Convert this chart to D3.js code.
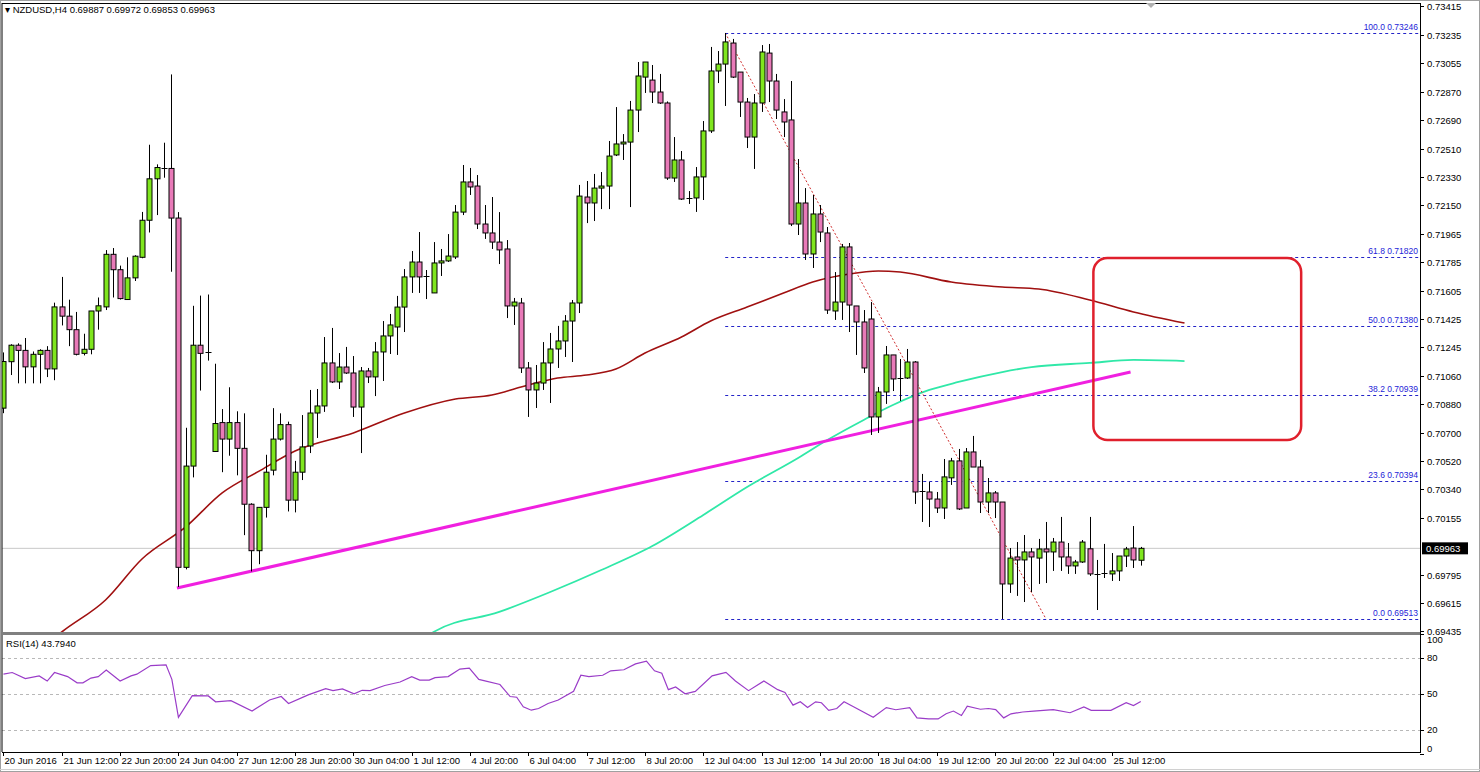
<!DOCTYPE html>
<html>
<head>
<meta charset="utf-8">
<script src="https://cdn.jsdelivr.net/npm/d3@7"></script>
<style>
  body { margin: 0; background: #fff; }
  text { font-family: "Liberation Sans", Tahoma, sans-serif; font-size: 9.5px; }
</style>
</head>
<body>
<div id="chart"></div>
<script>
// ---- data ----
var opens = [.70856,.71152,.71257,.71224,.71119,.71199,.71224,.71106,.71501,.71442,
.71356,.71205,.71231,.71475,.71501,.71836,.71738,.71548,.71686,.71817,
.72053,.72317,.72389,.72383,.72067,.69842,.70487,.71257,.71211,.70580,
.70764,.70659,.70764,.70600,.70244,.69948,.70224,.70461,.70659,.70751,
.70270,.70448,.70615,.70825,.70870,.71144,.71023,.71118,.71080,.70863,
.71093,.71055,.71214,.71316,.71373,.71500,.71692,.71787,.71695,.71590,
.71781,.71794,.71819,.72105,.72297,.72271,.72029,.71972,.71914,.71870,
.71507,.71526,.71112,.70972,.71016,.71144,.71233,.71284,.71411,.71526,
.72201,.72163,.72258,.72271,.72469,.72539,.72551,.72755,.72965,.72946,
.72870,.72800,.72322,.72437,.72195,.72195,.72329,.72622,.73004,.73048,
.73182,.72997,.72806,.72583,.72800,.73118,.72940,.72743,.72692,.72029,
.72163,.71838,.72093,.71972,.71475,.71532,.71883,.71507,.71405,.71424,
.70800,.70959,.71195,.71045,.71048,.71150,.70328,.70322,.70277,.70220,
.70412,.70520,.70220,.70577,.70481,.70258,.70316,.70258,.69736,.69908,
.69889,.69940,.69901,.69959,.69940,.70003,.69908,.69851,.69876,.69960,
.69800,.69806,.69800,.69819,.69914,.69965,.69887];
var highs = [.71211,.71263,.71269,.71303,.71217,.71231,.71251,.71528,.71692,.71547,
.71469,.71330,.71475,.71561,.71863,.71876,.71764,.71817,.71830,.72106,
.72534,.72409,.72547,.72982,.72105,.70731,.71508,.71573,.71580,.71139,
.70850,.70989,.70836,.70823,.70250,.70224,.70559,.70856,.70823,.70770,
.70520,.70812,.70972,.70978,.71309,.71367,.71207,.71246,.71188,.71118,
.71112,.71277,.71411,.71456,.71571,.71742,.71857,.71978,.71736,.71914,
.71870,.71965,.72150,.72405,.72386,.72341,.72150,.72201,.72105,.71927,
.71558,.71558,.71150,.71131,.71277,.71335,.71380,.71449,.71545,.72278,
.72303,.72348,.72360,.72558,.72774,.72602,.72813,.73061,.73061,.73042,
.72985,.72810,.72583,.72494,.72239,.72392,.72685,.73157,.73131,.73246,
.73208,.72997,.72832,.72857,.73169,.73176,.72985,.72825,.72940,.72443,
.72258,.72214,.72150,.72010,.71723,.71902,.71908,.71507,.71481,.71532,
.70991,.71252,.71195,.71169,.71233,.71156,.70437,.70386,.70322,.70532,
.70539,.70596,.70602,.70679,.70526,.70411,.70328,.70258,.69965,.70003,
.70048,.69965,.70023,.70131,.70029,.70163,.69997,.69889,.70016,.70163,
.69889,.69991,.69933,.69914,.69972,.70105,.69972];
var lows = [.70824,.71067,.71014,.71014,.71014,.71014,.71054,.71034,.71383,.71251,
.71192,.71192,.71199,.71356,.71481,.71561,.71548,.71548,.71666,.71811,
.71975,.72086,.72324,.71725,.69717,.69829,.70415,.70968,.71159,.70580,
.70448,.70553,.70428,.70047,.69816,.69862,.70159,.70428,.70650,.70198,
.70192,.70398,.70570,.70666,.70832,.71016,.70978,.71074,.70800,.70570,
.71016,.70933,.71029,.71201,.71195,.71341,.71590,.71590,.71551,.71590,
.71698,.71787,.71806,.72086,.72214,.71997,.71934,.71870,.71774,.71430,
.71386,.71080,.70800,.70857,.70972,.70889,.71112,.71182,.71150,.71462,
.72035,.72048,.72124,.72124,.72462,.72437,.72137,.72615,.72864,.72800,
.72794,.72310,.72297,.72182,.72157,.72106,.72182,.72609,.72927,.72781,
.72959,.72711,.72513,.72380,.72743,.72806,.72698,.72583,.72016,.71959,
.71800,.71749,.71914,.71456,.71418,.71418,.71341,.71195,.71080,.70685,
.70698,.70883,.70965,.70902,.71042,.70246,.70131,.70099,.70188,.70150,
.70367,.70207,.70220,.70481,.70188,.70188,.70156,.69513,.69679,.69660,
.69621,.69685,.69736,.69742,.69819,.69819,.69800,.69800,.69870,.69787,
.69570,.69774,.69755,.69755,.69844,.69838,.69853];
var closes = [.71153,.71257,.71224,.71119,.71199,.71224,.71106,.71501,.71442,.71356,
.71199,.71231,.71475,.71508,.71836,.71738,.71554,.71686,.71824,.72053,
.72317,.72389,.72384,.72067,.69842,.70487,.71257,.71205,.71216,.70758,
.70659,.70764,.70600,.70244,.69948,.70224,.70448,.70659,.70751,.70270,
.70448,.70609,.70825,.70870,.71144,.71023,.71118,.71080,.70863,.71093,
.71055,.71214,.71316,.71386,.71500,.71692,.71787,.71692,.71690,.71781,
.71794,.71825,.72105,.72297,.72265,.72029,.71972,.71914,.71864,.71507,
.71532,.71112,.70972,.71016,.71144,.71233,.71284,.71411,.71526,.72207,
.72163,.72258,.72271,.72462,.72539,.72551,.72755,.72972,.73061,.72870,
.72800,.72322,.72437,.72188,.72190,.72329,.72622,.73004,.73048,.73189,
.72965,.72806,.72583,.72800,.73125,.72940,.72755,.72679,.72029,.72163,
.71838,.72093,.71978,.71481,.71532,.71883,.71513,.71405,.71112,.70800,
.70959,.71195,.71042,.71040,.71150,.70322,.70322,.70277,.70220,.70418,
.70520,.70214,.70577,.70481,.70258,.70316,.70258,.69736,.69901,.69889,
.69940,.69908,.69959,.69940,.70003,.69908,.69851,.69876,.70003,.69800,
.69797,.69800,.69819,.69914,.69959,.69889,.69963];

// moving averages (bar index, price)
var maSlowBars = [5,8,14,19,25,30,35,40,48,55,62,67,71,76,80,84,88,93,97,102,107,111,116,120,123,130,137,142,149,155,162];
var maSlowVals = [.69315,.69430,.69634,.69895,.70099,.70316,.70453,.70583,.70698,.70825,.70914,.70940,.70991,.71048,.71067,.71105,.71207,.71309,.71411,.71500,.71590,.71660,.71711,.71730,.71723,.71660,.71628,.71615,.71545,.71469,.71398];
var maFastBars = [57,59,68,75,82,89,96,102,109,113,118,122,127,131,137,141,149,155,162];
var maFastVals = [.69315,.69430,.69558,.69685,.69825,.69978,.70176,.70354,.70539,.70653,.70781,.70876,.70972,.71023,.71086,.71118,.71144,.71163,.71156];

// RSI(14)
var rsiBars = [0,1.2,3,4.9,6,7,8.8,10.1,10.9,12,13,14.1,16,17.5,18.3,20.2,22.3,23.1,24,25.9,28.1,29.1,31.2,34.1,36.5,38.1,39.1,41.8,44.2,45.2,46.5,48.1,49.2,50.3,52.3,54.4,56,57.1,58.4,59.2,61,62.6,63.9,65.2,68.1,69.5,70.4,71.3,72.4,73.4,74.7,76.1,78.2,79.2,80.3,
82.2,83.3,85.1,86.7,88.2,89.3,90.3,91.2,92.2,93.5,94.9,97.2,99.1,100.4,102.2,104.3,106.2,107.2,108.3,109.3,110.3,111.4,112.2,113.2,114.3,115.3,116.6,119.3,121.1,122.4,124.3,125.3,126.9,128.2,129.3,130.3,131.4,132.2,134,135.1,136.1,137.2,138.2,139.8,141.3,144,146.3,148.2,149.2,151.9,154,155,156];
var rsiVals = [66.5,67.9,62.8,65.1,60.8,67.9,64.5,59.3,59.3,63.3,64.5,69.9,60.8,65.1,66.5,73.7,74.3,62.2,30.6,48.7,48.4,43.5,44.4,35.8,45,47.9,42.1,49.3,54.5,52.8,54.2,50.2,53.1,52.8,57.1,60,64.5,61.6,61.6,63.6,64.5,70.8,71.6,62.2,57.9,47.9,47.3,39.3,36.5,37.9,42.1,45,52.2,65.7,64.5,
65.6,69.3,70.2,75.1,77.4,69.3,67.3,53.6,55.9,50.2,52.2,65.1,68,60.8,52.8,60.8,53.6,51.3,40.7,43.5,38.7,43.5,42.7,36.4,37.9,43.5,39.3,30.6,38.7,36.9,38.7,30.1,29.2,29.2,33.5,35.8,32.1,39.9,37.3,37.9,37,30.1,33.5,35,35.8,37,34.4,39.3,36.4,36.4,42.7,40.4,43.79];

// fibonacci retracement
var fibLevels = ["100.0", "61.8", "50.0", "38.2", "23.6", "0.0"];
var fibPrices = [0.73246, 0.71820, 0.71380, 0.70939, 0.70394, 0.69513];
var fibStartBar = 99;

// trend lines and zone
var trendBars = [23.8, 154.6], trendPrices = [0.69710, 0.71086];
var fibTrendBars = [99, 143], fibTrendPrices = [0.73246, 0.69513];
var zoneBars = [149.5, 178], zonePrices = [0.71813, 0.70653];

var priceTicks = [0.73415,0.73235,0.73055,0.72870,0.72690,0.72510,0.72330,0.72150,0.71965,0.71785,0.71605,0.71425,0.71245,0.71060,0.70880,0.70700,0.70520,0.70340,0.70155,0.69795,0.69615,0.69435];
var rsiTicks = [100, 80, 50, 20, 0];
var timeLabels = ["20 Jun 2016","21 Jun 12:00","22 Jun 20:00","24 Jun 04:00","27 Jun 12:00","28 Jun 20:00","30 Jun 04:00","1 Jul 12:00","4 Jul 20:00","6 Jul 04:00","7 Jul 12:00","8 Jul 20:00","12 Jul 04:00","13 Jul 12:00","14 Jul 20:00","18 Jul 04:00","19 Jul 12:00","20 Jul 20:00","22 Jul 04:00","25 Jul 12:00"];
var lastPrice = 0.69963;

// ---- layout ----
var W = 1480, H = 772;
var left = 2, right = 1420, mainTop = 3, mainBottom = 632, rsiTop = 635, rsiBottom = 752;

var svg = d3.select("#chart").append("svg")
    .attr("width", W).attr("height", H)
    .style("display", "block");

var x = d3.scaleLinear().domain([-0.2, 194.3]).range([left, right]);
var y = d3.scaleLinear().domain([0.69430, 0.73437]).range([mainBottom, mainTop]);
var yr = d3.scaleLinear().domain([0, 100]).range([754, 634]);

var defs = svg.append("defs");
defs.append("clipPath").attr("id", "clipMain").append("rect")
    .attr("x", left).attr("y", mainTop).attr("width", right - left).attr("height", mainBottom - mainTop);
defs.append("clipPath").attr("id", "clipRsi").append("rect")
    .attr("x", left).attr("y", rsiTop).attr("width", right - left).attr("height", rsiBottom - rsiTop);

var main = svg.append("g").attr("clip-path", "url(#clipMain)");

// current price line
main.append("line")
    .attr("x1", left).attr("x2", right)
    .attr("y1", y(lastPrice)).attr("y2", y(lastPrice))
    .attr("stroke", "#c8c8c8").attr("stroke-width", 1);

// fib levels
fibPrices.forEach(function (p, i) {
    main.append("line")
        .attr("x1", x(fibStartBar)).attr("x2", right)
        .attr("y1", Math.round(y(p)) + 0.5).attr("y2", Math.round(y(p)) + 0.5)
        .attr("stroke", "#2424c8").attr("stroke-dasharray", "3,3");
    main.append("text")
        .attr("x", right - 2).attr("y", y(p) - 3)
        .attr("text-anchor", "end")
        .attr("fill", "#2424d8")
        .style("font-size", "8.5px")
        .text(fibLevels[i] + " " + p.toFixed(5));
});

// moving averages
var line = d3.line().x(function (d) { return x(d[0]); }).y(function (d) { return y(d[1]); });
main.append("path")
    .datum(d3.zip(maSlowBars, maSlowVals))
    .attr("fill", "none").attr("stroke", "#a01010").attr("stroke-width", 1.6)
    .attr("d", line.curve(d3.curveMonotoneX));
main.append("path")
    .datum(d3.zip(maFastBars, maFastVals))
    .attr("fill", "none").attr("stroke", "#30e8a8").attr("stroke-width", 1.8)
    .attr("d", line.curve(d3.curveMonotoneX));

// magenta trend line
main.append("line")
    .attr("x1", x(trendBars[0])).attr("y1", y(trendPrices[0]))
    .attr("x2", x(trendBars[1])).attr("y2", y(trendPrices[1]))
    .attr("stroke", "#f020e0").attr("stroke-width", 3);

// fib trend (dotted red)
main.append("line")
    .attr("x1", x(fibTrendBars[0])).attr("y1", y(fibTrendPrices[0]))
    .attr("x2", x(fibTrendBars[1])).attr("y2", y(fibTrendPrices[1]))
    .attr("stroke", "#d03030").attr("stroke-width", 1).attr("stroke-dasharray", "2,2");

// candles
var bw = 5;
var candles = main.append("g");
closes.forEach(function (c, i) {
    var o = opens[i], cx = Math.round(x(i)) + 0.5;
    candles.append("line")
        .attr("x1", cx).attr("x2", cx)
        .attr("y1", y(highs[i])).attr("y2", y(lows[i]))
        .attr("stroke", "#000").attr("stroke-width", 1);
    var top = y(Math.max(o, c)), bot = y(Math.min(o, c));
    if (bot - top < 1.5) {
        candles.append("line")
            .attr("x1", cx - 3).attr("x2", cx + 3)
            .attr("y1", Math.round(top) + 0.5).attr("y2", Math.round(top) + 0.5)
            .attr("stroke", "#000");
    } else {
        candles.append("rect")
            .attr("x", cx - bw / 2).attr("y", top)
            .attr("width", bw).attr("height", bot - top)
            .attr("fill", c >= o ? "#7fe61e" : "#e87ab8")
            .attr("stroke", "#000").attr("stroke-width", 1);
    }
});

// red zone
svg.append("rect")
    .attr("x", x(zoneBars[0])).attr("y", y(zonePrices[0]))
    .attr("width", x(zoneBars[1]) - x(zoneBars[0]))
    .attr("height", y(zonePrices[1]) - y(zonePrices[0]))
    .attr("rx", 14).attr("ry", 14)
    .attr("fill", "none").attr("stroke", "#e0202c").attr("stroke-width", 2.5);

// ---- RSI panel ----
var rsi = svg.append("g").attr("clip-path", "url(#clipRsi)");
[80, 50, 20].forEach(function (v) {
    rsi.append("line")
        .attr("x1", left).attr("x2", right)
        .attr("y1", Math.round(yr(v)) + 0.5).attr("y2", Math.round(yr(v)) + 0.5)
        .attr("stroke", "#b8b8b8").attr("stroke-dasharray", "3,3");
});
rsi.append("path")
    .datum(d3.zip(rsiBars, rsiVals))
    .attr("fill", "none").attr("stroke", "#9a3cc8").attr("stroke-width", 1.2)
    .attr("d", d3.line().x(function (d) { return x(d[0]); }).y(function (d) { return yr(d[1]); }));

svg.append("text").attr("x", 6).attr("y", 647).attr("fill", "#000").text("RSI(14) 43.7940");

// ---- frames ----
svg.append("rect").attr("x", 0.5).attr("y", 0.5).attr("width", W - 1).attr("height", H - 1)
    .attr("fill", "none").attr("stroke", "#a0a0a0");
svg.append("line").attr("x1", left).attr("x2", left).attr("y1", mainTop).attr("y2", rsiBottom).attr("stroke", "#000");
svg.append("line").attr("x1", right + 0.5).attr("x2", right + 0.5).attr("y1", mainTop).attr("y2", rsiBottom).attr("stroke", "#000");
svg.append("line").attr("x1", left).attr("x2", right).attr("y1", mainTop + 0.5).attr("y2", mainTop + 0.5).attr("stroke", "#000");
svg.append("rect").attr("x", left).attr("y", mainBottom).attr("width", right - left).attr("height", 3).attr("fill", "#808080");
svg.append("line").attr("x1", left).attr("x2", right + 1).attr("y1", rsiBottom + 0.5).attr("y2", rsiBottom + 0.5).attr("stroke", "#000");
svg.append("line").attr("x1", 0).attr("x2", W).attr("y1", 769.5).attr("y2", 769.5).attr("stroke", "#d0d0d0");
svg.append("path").attr("d", "M1146,3 L1156,3 L1151,8 Z").attr("fill", "#b0b0b0");

// header
svg.append("text").attr("x", 5).attr("y", 13).attr("fill", "#000")
    .text("\u25BE NZDUSD,H4  0.69887 0.69972 0.69853 0.69963");

// price axis
var ax = svg.append("g");
priceTicks.forEach(function (p) {
    var py = Math.round(y(p)) + 0.5;
    ax.append("line").attr("x1", right).attr("x2", right + 4).attr("y1", py).attr("y2", py).attr("stroke", "#000");
    ax.append("text").attr("x", right + 7).attr("y", py + 3).attr("fill", "#000").text(p.toFixed(5));
});
ax.append("rect").attr("x", right + 2).attr("y", y(lastPrice) - 6).attr("width", 46).attr("height", 12).attr("fill", "#000");
ax.append("text").attr("x", right + 6).attr("y", y(lastPrice) + 3.5).attr("fill", "#fff").text(lastPrice.toFixed(5));

rsiTicks.forEach(function (v) {
    var py = Math.max(rsiTop + 5, Math.min(rsiBottom - 3, yr(v)));
    ax.append("line").attr("x1", right).attr("x2", right + 4).attr("y1", Math.round(yr(v)) + 0.5).attr("y2", Math.round(yr(v)) + 0.5).attr("stroke", "#000");
    ax.append("text").attr("x", right + 7).attr("y", py + 3).attr("fill", "#000").text(v);
});

// time axis
timeLabels.forEach(function (t, i) {
    var tx = Math.round(x(i * 8)) + 0.5;
    ax.append("line").attr("x1", tx).attr("x2", tx).attr("y1", rsiBottom).attr("y2", rsiBottom + 4).attr("stroke", "#000");
    ax.append("text").attr("x", tx + 1).attr("y", 764).attr("fill", "#000").text(t);
});
</script>
</body>
</html>
